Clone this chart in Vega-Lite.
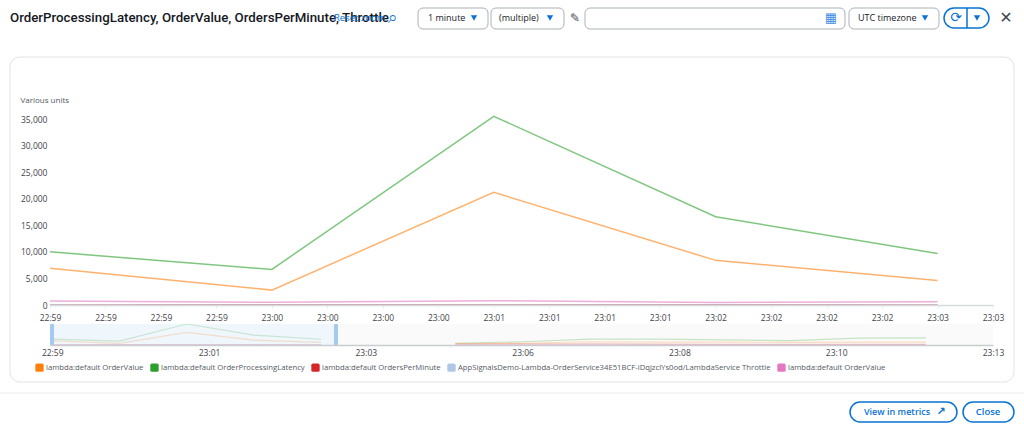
{"$schema":"https://vega.github.io/schema/vega-lite/v6.json","width":1024,"height":430,"padding":0,"autosize":"none","background":"white","config":{"view":{"stroke":null},"text":{"font":"Open Sans"},"axis":{"labelFont":"Open Sans","titleFont":"Open Sans"},"legend":{"labelFont":"Open Sans"}},"datasets":{"selected":[
{"time":"2025-01-01T22:59:00Z","series":"lambda:default OrdersPerMinute","value":20},{"time":"2025-01-01T23:00:00Z","series":"lambda:default OrdersPerMinute","value":50},{"time":"2025-01-01T23:01:00Z","series":"lambda:default OrdersPerMinute","value":60},{"time":"2025-01-01T23:02:00Z","series":"lambda:default OrdersPerMinute","value":50},{"time":"2025-01-01T23:03:00Z","series":"lambda:default OrdersPerMinute","value":20},
{"time":"2025-01-01T22:59:00Z","series":"AppSignalsDemo-Lambda-OrderService34E51BCF-iDqjzclYs0od/LambdaService Throttle","value":0},{"time":"2025-01-01T23:00:00Z","series":"AppSignalsDemo-Lambda-OrderService34E51BCF-iDqjzclYs0od/LambdaService Throttle","value":0},{"time":"2025-01-01T23:01:00Z","series":"AppSignalsDemo-Lambda-OrderService34E51BCF-iDqjzclYs0od/LambdaService Throttle","value":0},{"time":"2025-01-01T23:02:00Z","series":"AppSignalsDemo-Lambda-OrderService34E51BCF-iDqjzclYs0od/LambdaService Throttle","value":0},{"time":"2025-01-01T23:03:00Z","series":"AppSignalsDemo-Lambda-OrderService34E51BCF-iDqjzclYs0od/LambdaService Throttle","value":0},
{"time":"2025-01-01T22:59:00Z","series":"lambda:default OrderValue","value":6900},{"time":"2025-01-01T23:00:00Z","series":"lambda:default OrderValue","value":2800},{"time":"2025-01-01T23:01:00Z","series":"lambda:default OrderValue","value":21200},{"time":"2025-01-01T23:02:00Z","series":"lambda:default OrderValue","value":8400},{"time":"2025-01-01T23:03:00Z","series":"lambda:default OrderValue","value":4600},
{"time":"2025-01-01T22:59:00Z","series":"lambda:default OrderProcessingLatency","value":10000},{"time":"2025-01-01T23:00:00Z","series":"lambda:default OrderProcessingLatency","value":6700},{"time":"2025-01-01T23:01:00Z","series":"lambda:default OrderProcessingLatency","value":35500},{"time":"2025-01-01T23:02:00Z","series":"lambda:default OrderProcessingLatency","value":16600},{"time":"2025-01-01T23:03:00Z","series":"lambda:default OrderProcessingLatency","value":9700},
{"time":"2025-01-01T22:59:00Z","series":"lambda:default OrderValue ","value":750},{"time":"2025-01-01T23:00:00Z","series":"lambda:default OrderValue ","value":500},{"time":"2025-01-01T23:01:00Z","series":"lambda:default OrderValue ","value":800},{"time":"2025-01-01T23:02:00Z","series":"lambda:default OrderValue ","value":480},{"time":"2025-01-01T23:03:00Z","series":"lambda:default OrderValue ","value":620}],
"later":[
{"time":"2025-01-01T23:05:00Z","series":"lambda:default OrdersPerMinute","value":1500},{"time":"2025-01-01T23:06:00Z","series":"lambda:default OrdersPerMinute","value":1800},{"time":"2025-01-01T23:07:00Z","series":"lambda:default OrdersPerMinute","value":1800},{"time":"2025-01-01T23:08:00Z","series":"lambda:default OrdersPerMinute","value":1500},{"time":"2025-01-01T23:09:00Z","series":"lambda:default OrdersPerMinute","value":1200},{"time":"2025-01-01T23:10:00Z","series":"lambda:default OrdersPerMinute","value":1200},{"time":"2025-01-01T23:11:00Z","series":"lambda:default OrdersPerMinute","value":1200},{"time":"2025-01-01T23:12:00Z","series":"lambda:default OrdersPerMinute","value":1200},
{"time":"2025-01-01T23:05:00Z","series":"lambda:default OrderProcessingLatency","value":3000},{"time":"2025-01-01T23:06:00Z","series":"lambda:default OrderProcessingLatency","value":5500},{"time":"2025-01-01T23:07:00Z","series":"lambda:default OrderProcessingLatency","value":10000},{"time":"2025-01-01T23:08:00Z","series":"lambda:default OrderProcessingLatency","value":9800},{"time":"2025-01-01T23:09:00Z","series":"lambda:default OrderProcessingLatency","value":8500},{"time":"2025-01-01T23:10:00Z","series":"lambda:default OrderProcessingLatency","value":7500},{"time":"2025-01-01T23:11:00Z","series":"lambda:default OrderProcessingLatency","value":11500},{"time":"2025-01-01T23:12:00Z","series":"lambda:default OrderProcessingLatency","value":12000},
{"time":"2025-01-01T23:05:00Z","series":"lambda:default OrderValue","value":2500},{"time":"2025-01-01T23:06:00Z","series":"lambda:default OrderValue","value":3000},{"time":"2025-01-01T23:07:00Z","series":"lambda:default OrderValue","value":5500},{"time":"2025-01-01T23:08:00Z","series":"lambda:default OrderValue","value":5000},{"time":"2025-01-01T23:09:00Z","series":"lambda:default OrderValue","value":4800},{"time":"2025-01-01T23:10:00Z","series":"lambda:default OrderValue","value":4500},{"time":"2025-01-01T23:11:00Z","series":"lambda:default OrderValue","value":5000},{"time":"2025-01-01T23:12:00Z","series":"lambda:default OrderValue","value":5000},
{"time":"2025-01-01T23:05:00Z","series":"lambda:default OrderValue ","value":700},{"time":"2025-01-01T23:06:00Z","series":"lambda:default OrderValue ","value":700},{"time":"2025-01-01T23:07:00Z","series":"lambda:default OrderValue ","value":700},{"time":"2025-01-01T23:08:00Z","series":"lambda:default OrderValue ","value":700},{"time":"2025-01-01T23:09:00Z","series":"lambda:default OrderValue ","value":700},{"time":"2025-01-01T23:10:00Z","series":"lambda:default OrderValue ","value":700},{"time":"2025-01-01T23:11:00Z","series":"lambda:default OrderValue ","value":700},{"time":"2025-01-01T23:12:00Z","series":"lambda:default OrderValue ","value":700}],
"gridlines":[{"tick":5000},{"tick":10000},{"tick":15000},{"tick":20000},{"tick":25000},{"tick":30000},{"tick":35000}],"one":[{"n":1}]},
"resolve":{"scale":{"x":"independent","y":"independent"},"axis":{"x":"independent","y":"independent"}},
"layer":[
{"data":{"name":"one"},"mark":{"type":"rect","fill":"white","stroke":"#dfe2e4","strokeWidth":1,"cornerRadius":10},"encoding":{"x":{"datum":10,"type":"quantitative","axis":null,"scale":{"domain":[0,1024],"range":[0,1024]}},"x2":{"datum":1014},"y":{"datum":57,"type":"quantitative","axis":null,"scale":{"domain":[0,430],"range":[0,430]}},"y2":{"datum":382}}},
{"data":{"name":"one"},"mark":{"type":"rule","stroke":"#e9ebed","strokeWidth":1},"encoding":{"x":{"datum":0,"type":"quantitative","axis":null,"scale":{"domain":[0,1024],"range":[0,1024]}},"x2":{"datum":1024},"y":{"datum":393,"type":"quantitative","axis":null,"scale":{"domain":[0,430],"range":[0,430]}}}},
{"data":{"name":"one"},"mark":{"type":"rect","fill":"#fafafa"},"encoding":{"x":{"datum":338,"type":"quantitative","axis":null,"scale":{"domain":[0,1024],"range":[0,1024]}},"x2":{"datum":993},"y":{"datum":324,"type":"quantitative","axis":null,"scale":{"domain":[0,430],"range":[0,430]}},"y2":{"datum":345}}},
{"data":{"name":"one"},"mark":{"type":"rect","fill":"#eff6fc"},"encoding":{"x":{"datum":50,"type":"quantitative","axis":null,"scale":{"domain":[0,1024],"range":[0,1024]}},"x2":{"datum":338},"y":{"datum":324,"type":"quantitative","axis":null,"scale":{"domain":[0,430],"range":[0,430]}},"y2":{"datum":345}}},
{"data":{"name":"one"},"mark":{"type":"rect","fill":"white","stroke":"#aab2b8","strokeWidth":1,"cornerRadius":5},"encoding":{"x":{"datum":418,"type":"quantitative","axis":null,"scale":{"domain":[0,1024],"range":[0,1024]}},"x2":{"datum":488},"y":{"datum":8,"type":"quantitative","axis":null,"scale":{"domain":[0,430],"range":[0,430]}},"y2":{"datum":29}}},
{"data":{"name":"one"},"mark":{"type":"rect","fill":"white","stroke":"#aab2b8","strokeWidth":1,"cornerRadius":5},"encoding":{"x":{"datum":491,"type":"quantitative","axis":null,"scale":{"domain":[0,1024],"range":[0,1024]}},"x2":{"datum":564},"y":{"datum":8,"type":"quantitative","axis":null,"scale":{"domain":[0,430],"range":[0,430]}},"y2":{"datum":29}}},
{"data":{"name":"one"},"mark":{"type":"rect","fill":"white","stroke":"#aab2b8","strokeWidth":1,"cornerRadius":5},"encoding":{"x":{"datum":585,"type":"quantitative","axis":null,"scale":{"domain":[0,1024],"range":[0,1024]}},"x2":{"datum":845},"y":{"datum":8,"type":"quantitative","axis":null,"scale":{"domain":[0,430],"range":[0,430]}},"y2":{"datum":29}}},
{"data":{"name":"one"},"mark":{"type":"rect","fill":"white","stroke":"#aab2b8","strokeWidth":1,"cornerRadius":5},"encoding":{"x":{"datum":849,"type":"quantitative","axis":null,"scale":{"domain":[0,1024],"range":[0,1024]}},"x2":{"datum":939},"y":{"datum":8,"type":"quantitative","axis":null,"scale":{"domain":[0,430],"range":[0,430]}},"y2":{"datum":29}}},
{"data":{"name":"one"},"mark":{"type":"rect","fill":"white","stroke":"#0972d3","strokeWidth":1.5,"cornerRadius":10},"encoding":{"x":{"datum":944,"type":"quantitative","axis":null,"scale":{"domain":[0,1024],"range":[0,1024]}},"x2":{"datum":989},"y":{"datum":8,"type":"quantitative","axis":null,"scale":{"domain":[0,430],"range":[0,430]}},"y2":{"datum":28}}},
{"data":{"name":"one"},"mark":{"type":"rule","stroke":"#0972d3","strokeWidth":1.5},"encoding":{"x":{"datum":967,"type":"quantitative","axis":null,"scale":{"domain":[0,1024],"range":[0,1024]}},"y":{"datum":8,"type":"quantitative","axis":null,"scale":{"domain":[0,430],"range":[0,430]}},"y2":{"datum":28}}},
{"data":{"name":"one"},"mark":{"type":"rect","fill":"white","stroke":"#0972d3","strokeWidth":1.5,"cornerRadius":10},"encoding":{"x":{"datum":850,"type":"quantitative","axis":null,"scale":{"domain":[0,1024],"range":[0,1024]}},"x2":{"datum":957},"y":{"datum":402,"type":"quantitative","axis":null,"scale":{"domain":[0,430],"range":[0,430]}},"y2":{"datum":422}}},
{"data":{"name":"one"},"mark":{"type":"rect","fill":"white","stroke":"#0972d3","strokeWidth":1.5,"cornerRadius":10},"encoding":{"x":{"datum":963,"type":"quantitative","axis":null,"scale":{"domain":[0,1024],"range":[0,1024]}},"x2":{"datum":1014},"y":{"datum":402,"type":"quantitative","axis":null,"scale":{"domain":[0,430],"range":[0,430]}},"y2":{"datum":422}}},
{"data":{"name":"gridlines"},"mark":{"type":"rule","stroke":"#f2f3f3","strokeWidth":1},"encoding":{"x":{"datum":"2025-01-01T22:59:00Z","type":"temporal","axis":null,"scale":{"type":"utc","domain":["2025-01-01T22:59:00Z","2025-01-01T23:03:15Z"],"range":[50,993]}},"x2":{"datum":"2025-01-01T23:03:15Z"},"y":{"field":"tick","type":"quantitative","axis":null,"scale":{"domain":[0,35000],"range":[305,119],"nice":false,"zero":false}}}},
{"data":{"name":"selected"},"mark":{"type":"line","strokeWidth":1.5,"opacity":0.6},"encoding":{"x":{"field":"time","type":"temporal","scale":{"type":"utc","domain":["2025-01-01T22:59:00Z","2025-01-01T23:03:15Z"],"range":[50,993]},"axis":{"orient":"bottom","zindex":1,"offset":-125,"title":null,"format":"%H:%M","values":["2025-01-01T22:59:00Z","2025-01-01T22:59:15Z","2025-01-01T22:59:30Z","2025-01-01T22:59:45Z","2025-01-01T23:00:00Z","2025-01-01T23:00:15Z","2025-01-01T23:00:30Z","2025-01-01T23:00:45Z","2025-01-01T23:01:00Z","2025-01-01T23:01:15Z","2025-01-01T23:01:30Z","2025-01-01T23:01:45Z","2025-01-01T23:02:00Z","2025-01-01T23:02:15Z","2025-01-01T23:02:30Z","2025-01-01T23:02:45Z","2025-01-01T23:03:00Z","2025-01-01T23:03:15Z"],"grid":false,"labelOverlap":false,"labelFlush":false,"labelPadding":5,"labelFontSize":8.5,"labelColor":"#3f444b","tickColor":"#eaeded","tickSize":3,"domainColor":"#d5dbdb","domainWidth":1.5}},"y":{"field":"value","type":"quantitative","scale":{"domain":[0,35000],"range":[305,119],"nice":false,"zero":false},"axis":{"orient":"left","zindex":1,"offset":-47,"title":"Various units","titleAngle":0,"titleAlign":"left","titleBaseline":"middle","titleFontSize":8,"titleFontWeight":400,"titleColor":"#545b64","titleX":-27,"titleY":100,"values":[0,5000,10000,15000,20000,25000,30000,35000],"format":",.0f","grid":false,"domain":false,"ticks":false,"labelPadding":0,"labelFontSize":8.5,"labelColor":"#3f444b"}},"color":{"field":"series","type":"nominal","scale":{"domain":["lambda:default OrderValue","lambda:default OrderProcessingLatency","lambda:default OrdersPerMinute","AppSignalsDemo-Lambda-OrderService34E51BCF-iDqjzclYs0od/LambdaService Throttle","lambda:default OrderValue "],"range":["#ff7f0e","#2ca02c","#d62728","#aec7e8","#e377c2"]},"legend":{"orient":"none","legendX":35,"legendY":363,"direction":"horizontal","title":null,"symbolType":"M-0.6,-1H0.6Q1,-1 1,-0.6V0.6Q1,1 0.6,1H-0.6Q-1,1 -1,0.6V-0.6Q-1,-1 -0.6,-1Z","symbolSize":70,"symbolStrokeWidth":0,"symbolOpacity":1,"labelFontSize":7.7,"labelColor":"#545b64","columnPadding":6,"labelOffset":2,"labelLimit":500,"encode":{"symbols":{"update":{"fill":{"scale":"color","field":"value"},"opacity":{"value":1}}}}}}}},
{"data":{"name":"selected"},"mark":{"type":"line","strokeWidth":1.2,"opacity":0.2},"encoding":{"x":{"field":"time","type":"temporal","scale":{"type":"utc","domain":["2025-01-01T22:58:58Z","2025-01-01T23:13:00Z"],"range":[50,993]},"axis":{"orient":"bottom","zindex":1,"offset":-85,"title":null,"format":"%H:%M","values":["2025-01-01T22:59:00Z","2025-01-01T23:01:20Z","2025-01-01T23:03:40Z","2025-01-01T23:06:00Z","2025-01-01T23:08:20Z","2025-01-01T23:10:40Z","2025-01-01T23:13:00Z"],"grid":false,"labelOverlap":false,"labelFlush":false,"labelPadding":3,"labelFontSize":8.5,"labelColor":"#3f444b","ticks":false,"domainColor":"#c8cdd0","domainWidth":1.5}},"y":{"field":"value","type":"quantitative","axis":null,"scale":{"domain":[0,35500],"range":[345,324],"nice":false,"zero":false}},"color":{"field":"series","type":"nominal","legend":null}}},
{"data":{"name":"later"},"mark":{"type":"line","strokeWidth":1.2,"opacity":0.25},"encoding":{"x":{"field":"time","type":"temporal","axis":null,"scale":{"type":"utc","domain":["2025-01-01T22:58:58Z","2025-01-01T23:13:00Z"],"range":[50,993]}},"y":{"field":"value","type":"quantitative","axis":null,"scale":{"domain":[0,35500],"range":[345,324],"nice":false,"zero":false}},"color":{"field":"series","type":"nominal","legend":null}}},
{"data":{"name":"one"},"mark":{"type":"rect","fill":"#a5c9f0","cornerRadius":1},"encoding":{"x":{"datum":50,"type":"quantitative","axis":null,"scale":{"domain":[0,1024],"range":[0,1024]}},"x2":{"datum":54},"y":{"datum":324,"type":"quantitative","axis":null,"scale":{"domain":[0,430],"range":[0,430]}},"y2":{"datum":345}}},
{"data":{"name":"one"},"mark":{"type":"rect","fill":"#a5c9f0","cornerRadius":1},"encoding":{"x":{"datum":334,"type":"quantitative","axis":null,"scale":{"domain":[0,1024],"range":[0,1024]}},"x2":{"datum":338},"y":{"datum":324,"type":"quantitative","axis":null,"scale":{"domain":[0,430],"range":[0,430]}},"y2":{"datum":345}}},
{"data":{"values":[{"label":"OrderProcessingLatency, OrderValue, OrdersPerMinute, Throttle"}]},"mark":{"type":"text","align":"left","baseline":"middle","font":"Roboto","fontWeight":500,"fontSize":13.3,"fill":"#16191f"},"encoding":{"x":{"datum":10,"type":"quantitative","axis":null,"scale":{"domain":[0,1024],"range":[0,1024]}},"y":{"datum":18,"type":"quantitative","axis":null,"scale":{"domain":[0,430],"range":[0,430]}},"text":{"field":"label"}}},
{"data":{"values":[{"label":"Reset zoom"}]},"mark":{"type":"text","align":"left","baseline":"middle","fontSize":9.5,"fill":"#0972d3"},"encoding":{"x":{"datum":334,"type":"quantitative","axis":null,"scale":{"domain":[0,1024],"range":[0,1024]}},"y":{"datum":18,"type":"quantitative","axis":null,"scale":{"domain":[0,430],"range":[0,430]}},"text":{"field":"label"}}},
{"data":{"values":[{"label":"⌕"}]},"mark":{"type":"text","align":"center","baseline":"middle","font":"DejaVu Sans","fontSize":17,"fill":"#0972d3"},"encoding":{"x":{"datum":393,"type":"quantitative","axis":null,"scale":{"domain":[0,1024],"range":[0,1024]}},"y":{"datum":18,"type":"quantitative","axis":null,"scale":{"domain":[0,430],"range":[0,430]}},"text":{"field":"label"}}},
{"data":{"values":[{"label":"1 minute"}]},"mark":{"type":"text","align":"left","baseline":"middle","fontSize":9,"fill":"#16191f"},"encoding":{"x":{"datum":428,"type":"quantitative","axis":null,"scale":{"domain":[0,1024],"range":[0,1024]}},"y":{"datum":18,"type":"quantitative","axis":null,"scale":{"domain":[0,430],"range":[0,430]}},"text":{"field":"label"}}},
{"data":{"values":[{"label":"(multiple)"}]},"mark":{"type":"text","align":"left","baseline":"middle","fontSize":9,"fill":"#16191f"},"encoding":{"x":{"datum":499,"type":"quantitative","axis":null,"scale":{"domain":[0,1024],"range":[0,1024]}},"y":{"datum":18,"type":"quantitative","axis":null,"scale":{"domain":[0,430],"range":[0,430]}},"text":{"field":"label"}}},
{"data":{"values":[{"label":"UTC timezone"}]},"mark":{"type":"text","align":"left","baseline":"middle","fontSize":9,"fill":"#16191f"},"encoding":{"x":{"datum":858,"type":"quantitative","axis":null,"scale":{"domain":[0,1024],"range":[0,1024]}},"y":{"datum":18,"type":"quantitative","axis":null,"scale":{"domain":[0,430],"range":[0,430]}},"text":{"field":"label"}}},
{"data":{"values":[{"label":"✎"}]},"mark":{"type":"text","align":"center","baseline":"middle","font":"DejaVu Sans","fontSize":12,"fill":"#414750"},"encoding":{"x":{"datum":575,"type":"quantitative","axis":null,"scale":{"domain":[0,1024],"range":[0,1024]}},"y":{"datum":18,"type":"quantitative","axis":null,"scale":{"domain":[0,430],"range":[0,430]}},"text":{"field":"label"}}},
{"data":{"values":[{"label":"▦"}]},"mark":{"type":"text","align":"center","baseline":"middle","font":"DejaVu Sans","fontSize":13,"fill":"#3f8ce0"},"encoding":{"x":{"datum":831,"type":"quantitative","axis":null,"scale":{"domain":[0,1024],"range":[0,1024]}},"y":{"datum":18,"type":"quantitative","axis":null,"scale":{"domain":[0,430],"range":[0,430]}},"text":{"field":"label"}}},
{"data":{"values":[{"label":"⟳"}]},"mark":{"type":"text","align":"center","baseline":"middle","font":"DejaVu Sans","fontSize":14,"fill":"#0972d3"},"encoding":{"x":{"datum":956,"type":"quantitative","axis":null,"scale":{"domain":[0,1024],"range":[0,1024]}},"y":{"datum":18,"type":"quantitative","axis":null,"scale":{"domain":[0,430],"range":[0,430]}},"text":{"field":"label"}}},
{"data":{"values":[{"label":"✕"}]},"mark":{"type":"text","align":"center","baseline":"middle","font":"DejaVu Sans","fontSize":16,"fill":"#414750"},"encoding":{"x":{"datum":1006,"type":"quantitative","axis":null,"scale":{"domain":[0,1024],"range":[0,1024]}},"y":{"datum":18,"type":"quantitative","axis":null,"scale":{"domain":[0,430],"range":[0,430]}},"text":{"field":"label"}}},
{"data":{"values":[{"label":"View in metrics"}]},"mark":{"type":"text","align":"left","baseline":"middle","fontSize":9,"fontWeight":600,"fill":"#0972d3"},"encoding":{"x":{"datum":864,"type":"quantitative","axis":null,"scale":{"domain":[0,1024],"range":[0,1024]}},"y":{"datum":412,"type":"quantitative","axis":null,"scale":{"domain":[0,430],"range":[0,430]}},"text":{"field":"label"}}},
{"data":{"values":[{"label":"↗"}]},"mark":{"type":"text","align":"center","baseline":"middle","font":"DejaVu Sans","fontSize":11,"fontWeight":700,"fill":"#0972d3"},"encoding":{"x":{"datum":941,"type":"quantitative","axis":null,"scale":{"domain":[0,1024],"range":[0,1024]}},"y":{"datum":412,"type":"quantitative","axis":null,"scale":{"domain":[0,430],"range":[0,430]}},"text":{"field":"label"}}},
{"data":{"values":[{"label":"Close"}]},"mark":{"type":"text","align":"center","baseline":"middle","fontSize":9.5,"fontWeight":600,"fill":"#0972d3"},"encoding":{"x":{"datum":988,"type":"quantitative","axis":null,"scale":{"domain":[0,1024],"range":[0,1024]}},"y":{"datum":412,"type":"quantitative","axis":null,"scale":{"domain":[0,430],"range":[0,430]}},"text":{"field":"label"}}},
{"data":{"name":"one"},"mark":{"type":"point","shape":"triangle-down","filled":true,"fill":"#0972d3","opacity":1,"size":40},"encoding":{"x":{"datum":474,"type":"quantitative","axis":null,"scale":{"domain":[0,1024],"range":[0,1024]}},"y":{"datum":18,"type":"quantitative","axis":null,"scale":{"domain":[0,430],"range":[0,430]}}}},
{"data":{"name":"one"},"mark":{"type":"point","shape":"triangle-down","filled":true,"fill":"#0972d3","opacity":1,"size":40},"encoding":{"x":{"datum":550,"type":"quantitative","axis":null,"scale":{"domain":[0,1024],"range":[0,1024]}},"y":{"datum":18,"type":"quantitative","axis":null,"scale":{"domain":[0,430],"range":[0,430]}}}},
{"data":{"name":"one"},"mark":{"type":"point","shape":"triangle-down","filled":true,"fill":"#0972d3","opacity":1,"size":40},"encoding":{"x":{"datum":925,"type":"quantitative","axis":null,"scale":{"domain":[0,1024],"range":[0,1024]}},"y":{"datum":18,"type":"quantitative","axis":null,"scale":{"domain":[0,430],"range":[0,430]}}}},
{"data":{"name":"one"},"mark":{"type":"point","shape":"triangle-down","filled":true,"fill":"#0972d3","opacity":1,"size":40},"encoding":{"x":{"datum":977,"type":"quantitative","axis":null,"scale":{"domain":[0,1024],"range":[0,1024]}},"y":{"datum":18,"type":"quantitative","axis":null,"scale":{"domain":[0,430],"range":[0,430]}}}}
]}
